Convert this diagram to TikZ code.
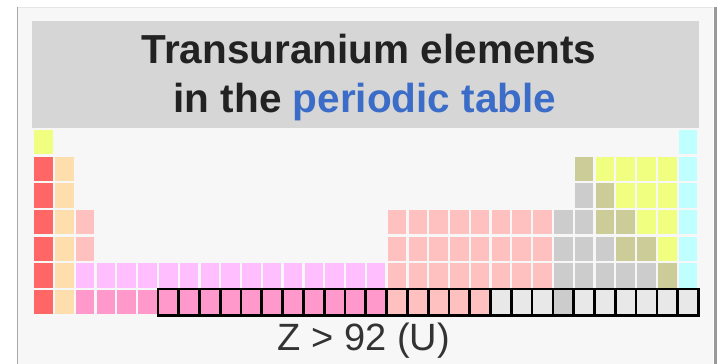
\documentclass[tikz,border=0pt]{standalone}
\usepackage{fontspec}
\setmainfont{Liberation Sans}
\usetikzlibrary{positioning}

\definecolor{panel}{HTML}{F7F7F7}
\definecolor{titlegray}{HTML}{D6D6D6}
\definecolor{titleblue}{HTML}{3A6CC8}
\definecolor{inkdark}{HTML}{222222}
\definecolor{alkali}{HTML}{FF6666}
\definecolor{alkaline}{HTML}{FFDEAD}
\definecolor{transition}{HTML}{FFC0C0}
\definecolor{lanthanide}{HTML}{FFBFFF}
\definecolor{actinide}{HTML}{FF99CC}
\definecolor{poor}{HTML}{CCCCCC}
\definecolor{metalloid}{HTML}{CCCC99}
\definecolor{nonmetal}{HTML}{F0FF80}
\definecolor{noble}{HTML}{C0FFFF}
\definecolor{unknown}{HTML}{E8E8E8}

\begin{document}
\begin{tikzpicture}[x=1pt, y=-1pt]
        \tikzstyle{cell} = [rectangle, inner sep=0pt, minimum width=18.5pt, minimum height=24.3pt]
        \tikzstyle{zframe} = [rectangle, draw=black, line width=2.7pt, inner sep=0pt, minimum width=20.79pt, minimum height=26.3pt]
        \tikzstyle{titlebox} = [rectangle, fill=titlegray, inner sep=0pt, minimum width=667pt, minimum height=107pt]
        \tikzstyle{titletext} = [inner sep=0pt, anchor=base, text=inkdark, font=\fontsize{40.5}{48}\selectfont\bfseries]

        \useasboundingbox (0,0) rectangle (720,364);
        \fill[white] (0,0) rectangle (720,364);
        \fill[panel] (17,7) rectangle (713,364);
        \draw[black!10, line width=0.8pt] (17,7) -- (713,7);
        \draw[black!35, line width=1.2pt] (17.5,7) -- (17.5,364);
        \draw[black!40, line width=3pt] (715,7) -- (715,364);

        % title
        \node [titlebox] (titlebar) at (365.5,74.5) {};
        \node [titletext] (title1) at (369,63) {Transuranium elements};
        \node [titletext] (title2) at (365,112) {in the \textcolor{titleblue}{periodic table}};

        % cells: row / first col / last col / colour
        \foreach \r/\a/\b/\k in {1/1/1/nonmetal, 1/32/32/noble,
                2/1/1/alkali, 2/2/2/alkaline, 2/27/27/metalloid, 2/28/31/nonmetal, 2/32/32/noble,
                3/1/1/alkali, 3/2/2/alkaline, 3/27/27/poor, 3/28/28/metalloid, 3/29/31/nonmetal, 3/32/32/noble,
                4/1/1/alkali, 4/2/2/alkaline, 4/3/3/transition, 4/18/25/transition, 4/26/27/poor, 4/28/29/metalloid, 4/30/31/nonmetal, 4/32/32/noble,
                5/1/1/alkali, 5/2/2/alkaline, 5/3/3/transition, 5/18/25/transition, 5/26/28/poor, 5/29/30/metalloid, 5/31/31/nonmetal, 5/32/32/noble,
                6/1/1/alkali, 6/2/2/alkaline, 6/3/17/lanthanide, 6/18/25/transition, 6/26/30/poor, 6/31/31/metalloid, 6/32/32/noble,
                7/1/1/alkali, 7/2/2/alkaline, 7/3/17/actinide, 7/18/22/transition, 7/23/25/unknown, 7/26/26/poor, 7/27/32/unknown}
            \foreach \c in {\a,...,\b}
                \node [cell, fill=\k] (e\r-\c) at ({34.3+(\c-1)*20.79+9.25}, {130+(\r-1)*26.67+12.15}) {};

        % Z > 92
        \foreach \c in {7,...,32}
            \node [zframe] (z\c) at (e7-\c) {};

        \node [inner sep=0pt, anchor=base, text=black!80, font=\fontsize{38}{44}\selectfont] (zlabel) at (364,350) {Z > 92 (U)};
\end{tikzpicture}
\end{document}
